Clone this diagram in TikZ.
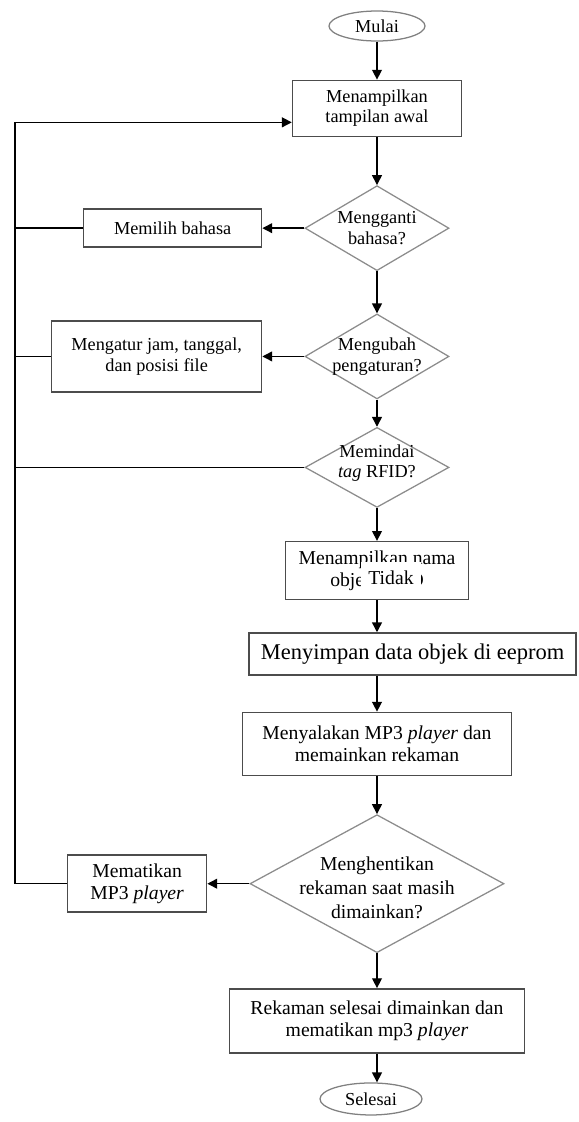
\documentclass[tikz,border=0pt]{standalone}
\usepackage{fontspec}
\setmainfont{Liberation Serif}
\usetikzlibrary{positioning,calc,shapes.geometric,arrows.meta}

\begin{document}
\begin{tikzpicture}[
  proses/.style={draw=black!70,line width=1pt,align=center,inner sep=1pt,font=\fontsize{13}{14.5}\selectfont},
  keputusan/.style={diamond,draw=black!45,line width=0.9pt,inner sep=0pt},
  dteks/.style={align=center,inner sep=0pt,font=\fontsize{13}{14.5}\selectfont},
  terminal/.style={ellipse,draw=black!50,line width=0.9pt,inner sep=0pt,font=\fontsize{13}{14.5}\selectfont},
  panah/.style={-{Triangle[width=7pt,length=7pt]},line width=1pt},
  garis/.style={line width=1pt}]
 \useasboundingbox (0,0) rectangle (14.475,-28.05);
 \node[terminal,minimum width=2.4cm,minimum height=0.75cm] (mulai) at (9.425,-0.65) {Mulai};
 \node[proses,below=0.95cm of mulai,minimum width=4.225cm,minimum height=1.4cm] (tampil) {Menampilkan\\tampilan awal};
 \node[keputusan,below=1.2cm of tampil,minimum width=3.6cm,minimum height=2.125cm,
   label={[dteks]center:Mengganti\\bahasa?}] (bahasa) {};
 \node[proses,left=1.05cm of bahasa,minimum width=4.45cm,minimum height=0.95cm] (pilih) {Memilih bahasa};
 \node[keputusan,below=1.05cm of bahasa,minimum width=3.6cm,minimum height=2.125cm,
   label={[dteks]center:Mengubah\\pengaturan?}] (ubah) {};
 \node[proses,left=1.05cm of ubah,minimum width=5.25cm,minimum height=1.775cm] (atur) {Mengatur jam, tanggal,\\dan posisi file};
 \node[keputusan,below=0.68cm of ubah,minimum width=3.6cm,minimum height=2cm,
   label={[dteks,yshift=3pt]center:Memindai\\\textit{tag} RFID?}] (pindai) {};
 \node[proses,below=0.82cm of pindai,minimum width=4.575cm,minimum height=1.45cm,font=\fontsize{14}{15.5}\selectfont] (nama) {Menampilkan nama\\objek RFID};
 \node[proses,below=0.8cm of nama,xshift=0.89cm,minimum width=8.175cm,minimum height=1.05cm,font=\fontsize{16}{18}\selectfont] (simpan) {Menyimpan data objek di eeprom};
 \node[proses,anchor=north,minimum width=6.725cm,minimum height=1.575cm,font=\fontsize{14}{15.5}\selectfont]
   at ($(nama.south |- simpan.south)+(0,-0.9cm)$) (nyala) {Menyalakan MP3 \textit{player} dan\\memainkan rekaman};
 \node[keputusan,below=0.95cm of nyala,minimum width=6.35cm,minimum height=3.45cm,
   label={[dteks,font=\fontsize{14}{17}\selectfont,yshift=-3pt]center:Menghentikan\\rekaman saat masih\\dimainkan?}] (henti) {};
 \node[proses,left=1.05cm of henti,minimum width=3.475cm,minimum height=1.425cm,font=\fontsize{14}{15.5}\selectfont] (matikan) {Mematikan\\MP3 \textit{player}};
 \node[proses,below=0.87cm of henti,minimum width=7.375cm,minimum height=1.6cm,font=\fontsize{14}{15.5}\selectfont] (akhir) {Rekaman selesai dimainkan dan\\mematikan mp3 \textit{player}};
 \node[terminal,below=0.72cm of akhir,xshift=-0.15cm,minimum width=2.55cm,minimum height=0.8cm] (selesai) {Selesai};
 \node[fill=white,inner sep=0pt,minimum width=1.5cm,minimum height=0.8cm,font=\fontsize{14}{15.5}\selectfont] (tidak) at ($(nama)+(0.35,-0.175)$) {Tidak};
 %
 \coordinate (garisx) at (0.375,0);
 \coordinate (masuk) at ($(tampil.west)+(0,-0.35)$);
 \draw[panah] (mulai) -- (tampil);
 \draw[panah] (tampil) -- (bahasa);
 \draw[panah] (bahasa) -- (pilih);
 \draw[panah] (bahasa) -- (ubah);
 \draw[panah] (ubah) -- (atur);
 \draw[panah] (ubah) -- (pindai);
 \draw[panah] (pindai) -- (nama);
 \draw[panah] (nama.south) -- (nama.south |- simpan.north);
 \draw[panah] (nama.south |- simpan.south) -- (nyala);
 \draw[panah] (nyala) -- (henti);
 \draw[panah] (henti) -- (matikan);
 \draw[panah] (henti) -- (akhir);
 \draw[panah] (akhir.south) -- (akhir.south |- selesai.north);
 \draw[garis] (pilih.west) -- (pilih.west -| garisx);
 \draw[garis] (atur.west) -- (atur.west -| garisx);
 \draw[garis] (pindai.west) -- (pindai.west -| garisx);
 \draw[panah] (matikan.west) -| (masuk -| garisx) -- (masuk);
\end{tikzpicture}
\end{document}
